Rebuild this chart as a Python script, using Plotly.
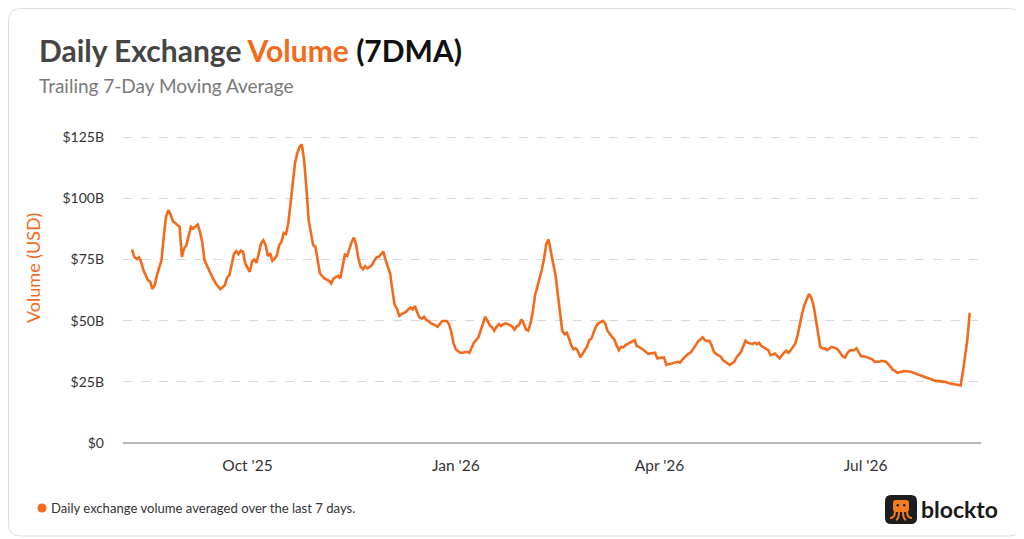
import pandas as pd
import plotly.graph_objects as go

# 7-day moving average of exchange volume, $B
start_date = "2025-08-11"
day = [
    0, 1, 2, 3, 4, 5, 7, 8, 9, 10, 11, 13, 14, 15, 16, 17, 18, 20, 21, 22,
    23, 24, 25, 26, 27, 28, 29, 30, 31, 32, 33, 35, 37, 38, 39, 41, 42, 43, 44, 45,
    46, 47, 48, 49, 50, 52, 53, 54, 55, 56, 57, 58, 59, 60, 61, 62, 63, 64, 65, 66,
    67, 68, 69, 70, 71, 72, 73, 74, 75, 76, 77, 78, 79, 80, 81, 82, 83, 84, 85, 87,
    88, 89, 90, 91, 92, 93, 94, 95, 96, 97, 98, 99, 100, 101, 102, 103, 104, 106, 107, 108,
    109, 110, 111, 112, 113, 114, 115, 116, 117, 118, 119, 121, 122, 123, 124, 125, 126, 127, 128, 129,
    130, 131, 132, 133, 135, 136, 137, 139, 140, 141, 142, 143, 145, 146, 148, 149, 150, 151, 153, 154,
    155, 156, 157, 158, 159, 160, 161, 162, 163, 164, 165, 167, 168, 169, 170, 171, 172, 173, 174, 175,
    176, 177, 178, 179, 180, 181, 182, 183, 184, 185, 186, 187, 188, 189, 190, 191, 192, 193, 194, 195,
    196, 197, 198, 199, 200, 201, 202, 203, 204, 205, 206, 208, 209, 210, 212, 213, 214, 215, 216, 217,
    218, 220, 221, 222, 223, 224, 226, 228, 229, 231, 232, 234, 235, 236, 238, 239, 241, 242, 243, 245,
    247, 249, 250, 252, 253, 254, 255, 256, 257, 258, 260, 261, 263, 264, 266, 267, 269, 270, 271, 272,
    274, 275, 276, 277, 278, 279, 281, 282, 283, 284, 286, 287, 288, 289, 290, 291, 293, 294, 295, 296,
    297, 298, 299, 300, 301, 302, 303, 304, 305, 306, 307, 308, 309, 311, 312, 313, 314, 315, 316, 317,
    319, 320, 321, 322, 324, 325, 327, 328, 330, 331, 333, 334, 335, 336, 337, 338, 340, 341, 344, 346,
    348, 350, 352, 355, 357, 359, 361, 363, 366, 367, 368, 369, 370,
]
volume_b = [
    79.1, 76.1, 75.2, 75.9, 74.1, 70.7, 66.6, 65.9, 63.0, 64.5, 68.6, 74.8, 84.3, 92.4, 95.2, 93.5, 90.8, 89.3, 88.4, 76.1,
    79.5, 80.9, 85.4, 88.4, 87.7, 88.4, 89.3, 86.3, 82.2, 74.8, 72.7, 68.6, 65.2, 63.9, 62.9, 64.5, 67.7, 68.6, 73.1, 77.2,
    78.4, 77.2, 78.6, 78.2, 73.4, 70.0, 74.1, 75.0, 73.7, 77.5, 81.6, 82.9, 80.9, 76.4, 77.6, 74.5, 75.4, 76.8, 80.9, 82.2,
    85.9, 85.4, 89.7, 97.9, 106.1, 114.5, 118.5, 121.0, 122.1, 115.5, 104.5, 91.1, 86.0, 80.9, 80.2, 74.8, 69.3, 68.2, 67.3, 66.3,
    65.2, 67.3, 67.9, 68.3, 67.3, 72.0, 77.0, 76.4, 79.5, 82.2, 84.0, 80.9, 75.4, 72.0, 71.0, 72.3, 71.4, 72.7, 74.5, 75.9,
    76.1, 77.2, 78.3, 74.8, 72.0, 69.3, 62.5, 56.4, 55.0, 52.0, 52.7, 53.6, 54.6, 55.4, 54.6, 56.0, 53.2, 51.3, 50.9, 51.6,
    50.2, 49.9, 48.9, 48.6, 47.5, 48.6, 49.9, 49.9, 48.6, 45.5, 40.7, 38.3, 36.9, 36.9, 37.3, 36.9, 38.7, 41.0, 43.2, 46.2,
    49.6, 51.6, 49.9, 48.2, 47.3, 45.9, 47.5, 48.6, 47.8, 48.6, 48.9, 48.2, 47.5, 46.4, 47.8, 48.2, 50.5, 48.9, 46.4, 45.9,
    48.9, 53.5, 60.3, 64.0, 66.8, 70.8, 75.5, 81.5, 83.2, 79.0, 73.5, 69.0, 62.0, 53.0, 46.0, 44.5, 45.1, 42.8, 40.0, 38.3,
    38.7, 37.5, 35.0, 36.5, 37.8, 39.5, 42.1, 42.8, 45.5, 47.8, 48.9, 49.9, 48.9, 45.9, 43.4, 42.4, 40.0, 38.0, 39.3, 39.1,
    40.0, 41.0, 41.4, 42.1, 39.6, 39.3, 38.0, 36.4, 36.6, 36.9, 34.6, 35.0, 35.0, 31.9, 32.3, 32.5, 33.2, 32.8, 34.0, 35.9,
    37.3, 40.0, 41.5, 43.2, 42.1, 41.6, 41.8, 40.0, 37.3, 36.4, 35.3, 33.9, 32.8, 31.9, 33.2, 35.0, 37.3, 39.3, 41.8, 41.0,
    40.4, 41.0, 40.4, 41.0, 39.6, 39.1, 38.0, 35.9, 36.4, 36.6, 34.6, 35.9, 36.9, 37.7, 36.9, 38.0, 40.7, 44.1, 48.9, 53.0,
    56.4, 59.1, 60.9, 59.5, 56.4, 50.9, 44.8, 39.3, 38.7, 38.7, 38.0, 38.7, 39.3, 38.7, 38.0, 36.6, 35.3, 35.0, 36.8, 37.8,
    38.0, 38.7, 37.3, 35.5, 35.3, 35.0, 34.2, 33.2, 33.2, 33.6, 33.2, 32.3, 31.0, 30.0, 29.5, 28.7, 29.1, 29.4, 29.1, 28.5,
    27.8, 27.1, 26.4, 25.4, 25.3, 25.0, 24.4, 24.0, 23.5, 29.0, 35.3, 42.5, 53.2,
]

x_tick_dates = ["2025-10-01", "2026-01-01", "2026-04-01", "2026-07-01"]
x_tick_labels = ["Oct '25", "Jan '26", "Apr '26", "Jul '26"]
y_tick_values = [0, 25, 50, 75, 100, 125]
y_tick_labels = ["$0", "$25B", "$50B", "$75B", "$100B", "$125B"]

ORANGE = "#F26A1C"
FONT = "Lato, 'Open Sans', sans-serif"

# the page body has an 8px margin, so the figure sits 8px in from the window
OFF = 8
W, H = 1024 - OFF, 539 - OFF
L, R, T, B = 123, 981, 125, 443  # plot area in window pixels


def fx(px):
    return (px - L) / (R - L)


def fy(py):
    return (B - py) / (B - T)


def rrect(x0, y0, x1, y1, r):
    # rounded rectangle given in window pixels, returned as a paper-space path
    pts = [
        ("M", [(x0 + r, y0)]), ("L", [(x1 - r, y0)]), ("Q", [(x1, y0), (x1, y0 + r)]),
        ("L", [(x1, y1 - r)]), ("Q", [(x1, y1), (x1 - r, y1)]),
        ("L", [(x0 + r, y1)]), ("Q", [(x0, y1), (x0, y1 - r)]),
        ("L", [(x0, y0 + r)]), ("Q", [(x0, y0), (x0 + r, y0)]),
    ]
    out = []
    for cmd, pp in pts:
        out.append(cmd + " " + " ".join(f"{fx(a):.5f},{fy(b):.5f}" for a, b in pp))
    return " ".join(out) + " Z"


def curve(p0, c, p1):
    return (f"M {fx(p0[0]):.5f},{fy(p0[1]):.5f} "
            f"Q {fx(c[0]):.5f},{fy(c[1]):.5f} {fx(p1[0]):.5f},{fy(p1[1]):.5f}")


dates = pd.Timestamp(start_date) + pd.to_timedelta(day, unit="D")

fig = go.Figure()
fig.add_trace(go.Scatter(
    x=dates,
    y=volume_b,
    mode="lines",
    line=dict(color=ORANGE, width=2.6),
    hoverinfo="skip",
    showlegend=False))

shapes = [
    # card outline (right / bottom edges line up with the reference)
    dict(type="path", xref="paper", yref="paper", layer="below",
         path=rrect(8.5, 8.5, 1021, 536, 12), fillcolor="white",
         line=dict(color="#dedede", width=1)),
    # footer dot
    dict(type="circle", xref="paper", yref="paper",
         x0=fx(37.5), x1=fx(46.5), y0=fy(503.5), y1=fy(512.5),
         fillcolor=ORANGE, line=dict(width=0)),
    # logo tile
    dict(type="path", xref="paper", yref="paper",
         path=rrect(885, 495, 917, 524, 6), fillcolor="#1e1e1e",
         line=dict(width=0)),
    dict(type="path", xref="paper", yref="paper",
         path=rrect(893, 500, 909, 512, 3), fillcolor="#F47B20",
         line=dict(width=0)),
    dict(type="circle", xref="paper", yref="paper",
         x0=fx(896.5), x1=fx(899), y0=fy(504), y1=fy(506.5),
         fillcolor="#1e1e1e", line=dict(width=0)),
    dict(type="circle", xref="paper", yref="paper",
         x0=fx(903), x1=fx(905.5), y0=fy(504), y1=fy(506.5),
         fillcolor="#1e1e1e", line=dict(width=0)),
]
for p0, c, p1 in [
    ((895, 511), (895, 518), (890, 518)),
    ((899, 511), (899, 519), (896, 520)),
    ((903, 511), (903, 519), (906, 520)),
    ((907, 511), (907, 518), (912, 518)),
]:
    shapes.append(dict(type="path", xref="paper", yref="paper",
                       path=curve(p0, c, p1),
                       line=dict(color="#F47B20", width=2)))

annotations = [
    dict(x=fx(37), y=fy(50), xref="paper", yref="paper",
         xanchor="left", yanchor="middle", showarrow=False,
         text=("<b>Daily Exchange <span style='color:%s'>Volume</span> "
               "<span style='color:#111111'>(7DMA)</span></b>") % ORANGE,
         font=dict(family=FONT, size=30, color="#454545")),
    dict(x=fx(37), y=fy(86), xref="paper", yref="paper",
         xanchor="left", yanchor="middle", showarrow=False,
         text="Trailing 7-Day Moving Average",
         font=dict(family=FONT, size=19, color="#7a7a7a")),
    dict(x=fx(33), y=fy(268), xref="paper", yref="paper",
         xanchor="center", yanchor="middle", showarrow=False, textangle=-90,
         text="Volume (USD)",
         font=dict(family=FONT, size=18, color=ORANGE)),
    dict(x=fx(49), y=fy(508), xref="paper", yref="paper",
         xanchor="left", yanchor="middle", showarrow=False,
         text="Daily exchange volume averaged over the last 7 days.",
         font=dict(family=FONT, size=13.1, color="#333333")),
    dict(x=fx(919), y=fy(509), xref="paper", yref="paper",
         xanchor="left", yanchor="middle", showarrow=False,
         text="<b>blockto</b>",
         font=dict(family=FONT, size=23, color="#1a1a1a")),
]

fig.update_layout(
    width=W, height=H, autosize=False,
    margin=dict(l=L - OFF, r=W - (R - OFF), t=T - OFF, b=H - (B - OFF), pad=0),
    paper_bgcolor="white",
    plot_bgcolor="rgba(0,0,0,0)",
    font=dict(family=FONT, color="#333333"),
    shapes=shapes,
    annotations=annotations,
    xaxis=dict(
        type="date",
        range=["2025-08-07", "2026-08-21"],
        tickvals=x_tick_dates,
        ticktext=x_tick_labels,
        showgrid=False,
        showline=False,
        zeroline=False,
        ticks="",
        ticklabelstandoff=11,
        tickfont=dict(family=FONT, size=15.5, color="#333333"),
    ),
    yaxis=dict(
        range=[0, 130],
        tickvals=y_tick_values,
        ticktext=y_tick_labels,
        showgrid=True,
        gridcolor="#d9d9d9",
        griddash="dash",
        gridwidth=1,
        zeroline=True,
        zerolinecolor="#b8b8b8",
        zerolinewidth=2,
        showline=False,
        ticks="",
        ticklabelstandoff=18,
        tickfont=dict(family=FONT, size=14, color="#333333"),
    ),
)

fig.write_html("out.html")
